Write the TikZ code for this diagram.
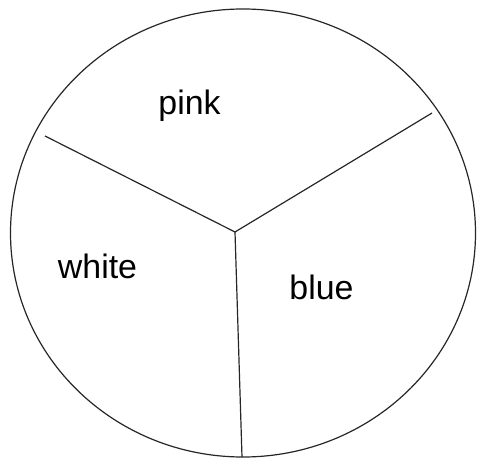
\documentclass[tikz,border=0pt]{standalone}
\usepackage{fontspec}
\setmainfont{Liberation Sans}
\begin{document}
\begin{tikzpicture}[x=1bp,y=-1bp,
  edge/.style={draw=black!85,line width=1.2bp},
  lbl/.style={font=\fontsize{34}{40}\selectfont,anchor=base,inner sep=0pt}]
\useasboundingbox (0,0) rectangle (478,459);
\draw[edge] (243,233) ellipse [x radius=232.5, y radius=224];
\coordinate (c) at (235,232);
\coordinate (l) at (45,136);
\coordinate (r) at (432,113);
\coordinate (b) at (242,457);
\draw[edge] (l) -- (c) -- (r);
\draw[edge] (c) -- (b);
\node[lbl] (pink) at (189.5,115) {pink};
\node[lbl] (white) at (97.5,278) {white};
\node[lbl] (blue) at (321.5,299) {blue};
\end{tikzpicture}
\end{document}
